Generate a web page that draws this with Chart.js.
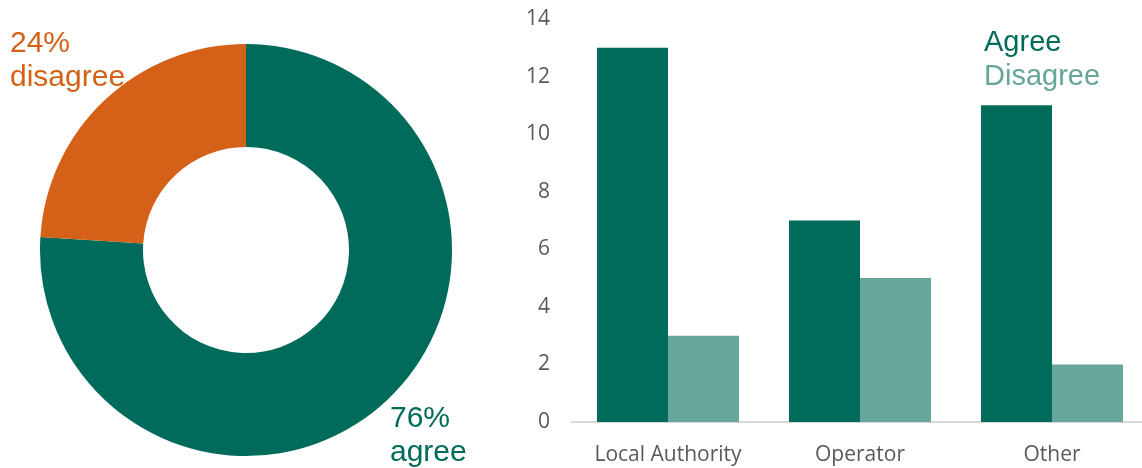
<!DOCTYPE html>
<html>
<head>
<meta charset="utf-8">
<script src="https://cdn.jsdelivr.net/npm/chart.js@4.4.0/dist/chart.umd.min.js"></script>
<style>
  html, body { margin: 0; padding: 0; background: #fff; overflow: hidden; }
  #wrap { position: relative; width: 1142px; height: 468px; overflow: hidden; }
  #pieBox { position: absolute; left: 0; top: 0; width: 492px; height: 468px; }
  #barBox { position: absolute; left: 500px; top: 0; width: 648px; height: 468px; }
  .lbl { position: absolute; font-family: "Liberation Sans", Arial, sans-serif; font-size: 30px; line-height: 34px; }
  .legend { position: absolute; left: 984px; top: 24px; font-family: "Liberation Sans", Arial, sans-serif; font-size: 29px; line-height: 34px; }
</style>
</head>
<body>
<div id="wrap">
  <div id="pieBox"><canvas id="pieChart"></canvas></div>
  <div id="barBox"><canvas id="barChart"></canvas></div>
  <div class="lbl" style="left:10px; top:25px; color:#d46117;">24%<br>disagree</div>
  <div class="lbl" style="left:390px; top:400px; color:#006b5a;">76%<br>agree</div>
  <div class="legend">
    <div style="color:#006b5a;">Agree</div>
    <div style="color:#66a59a;">Disagree</div>
  </div>
</div>
<script>
// Share of responses (doughnut)
var shareLabels = ["agree", "disagree"];
var shareValues = [76, 24];
var shareColors = ["#006b5a", "#d46117"];

// Responses by respondent type (bars)
var categories = ["Local Authority", "Operator", "Other"];
var agreeValues = [13, 7, 11];
var disagreeValues = [3, 5, 2];
var yTicks = [0, 2, 4, 6, 8, 10, 12, 14];

var tickFont = { family: "'Open Sans', 'Liberation Sans', sans-serif", size: 21 };

new Chart("pieChart", {
    type: "doughnut",
    data: {
        labels: shareLabels,
        datasets: [{
            data: shareValues,
            backgroundColor: shareColors,
            borderWidth: 0
        }]
    },
    options: {
        responsive: true,
        maintainAspectRatio: false,
        animation: false,
        cutout: "50%",
        layout: { padding: { left: 40, right: 40, top: 44, bottom: 12 } },
        plugins: {
            legend: { display: false },
            tooltip: { enabled: false }
        }
    }
});

new Chart("barChart", {
    type: "bar",
    data: {
        labels: categories,
        datasets: [
            { label: "Agree", data: agreeValues, backgroundColor: "#006b5a" },
            { label: "Disagree", data: disagreeValues, backgroundColor: "#66a59a" }
        ]
    },
    options: {
        responsive: true,
        maintainAspectRatio: false,
        animation: false,
        layout: { padding: { top: 19, right: 0 } },
        datasets: { bar: { barPercentage: 1, categoryPercentage: 0.74 } },
        scales: {
            x: {
                grid: { display: false },
                border: { display: true, color: "#d9d9d9", width: 2 },
                ticks: { color: "#595959", font: tickFont, padding: 12 },
                afterFit: function (axis) { axis.height = 46; }
            },
            y: {
                min: 0,
                max: 14,
                afterBuildTicks: function (axis) {
                    axis.ticks = yTicks.map(function (v) { return { value: v }; });
                },
                grid: { display: false },
                border: { display: false },
                ticks: { color: "#595959", font: tickFont, padding: 14 },
                afterFit: function (axis) {
                    axis.width = 72;
                    axis.paddingTop = 0;
                    axis.paddingBottom = 0;
                }
            }
        },
        plugins: {
            legend: { display: false },
            tooltip: { enabled: false }
        }
    }
});
</script>
</body>
</html>
